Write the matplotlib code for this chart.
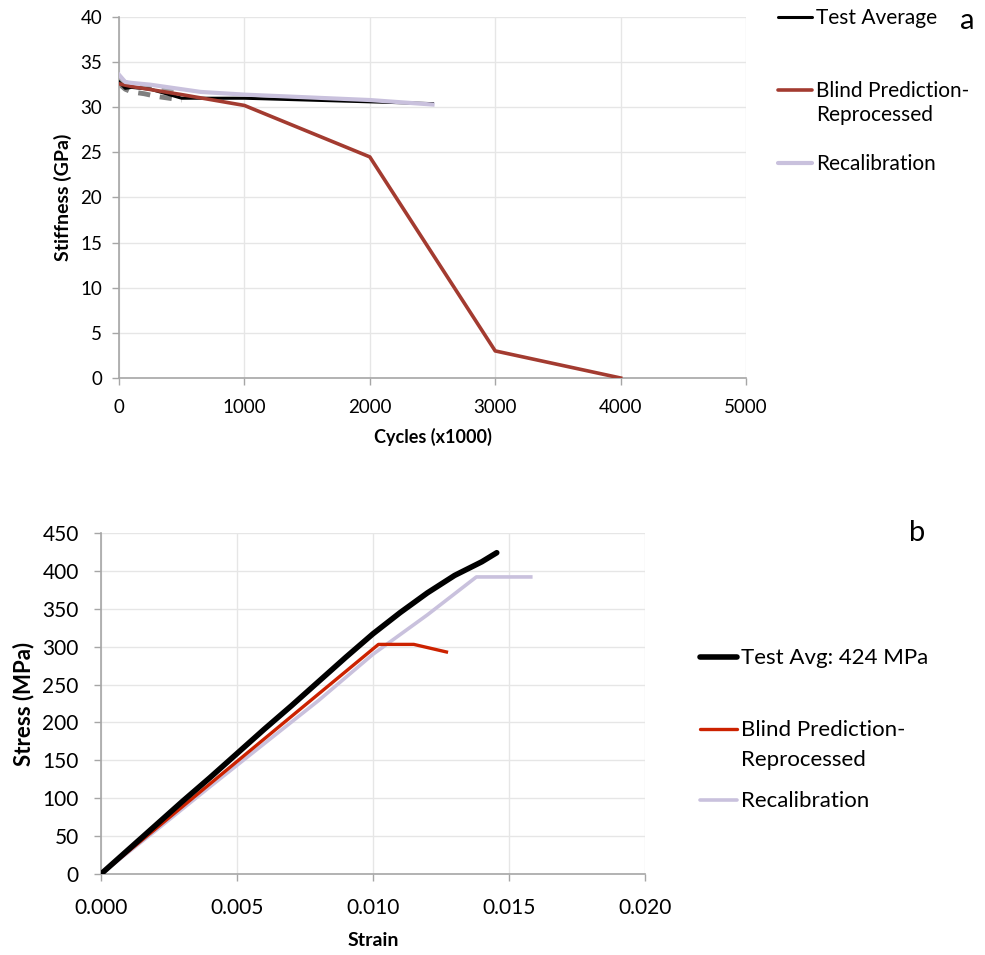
import matplotlib
matplotlib.use("Agg")
import matplotlib.pyplot as plt
from matplotlib.lines import Line2D

plt.rcParams["font.family"] = ["Lato", "DejaVu Sans"]

# ---- (a) stiffness degradation vs. cycles ----
cyc_test_avg = [0, 50, 100, 250, 500, 1000, 2500]
stf_test_avg = [32.8, 32.1, 32.2, 32.0, 31.0, 31.0, 30.4]

cyc_spec1 = [0, 50, 100, 200, 300, 500]
stf_spec1 = [32.6, 32.0, 31.7, 31.5, 31.2, 30.8]
cyc_spec2 = [0, 100, 250, 500]
stf_spec2 = [33.0, 32.5, 32.3, 31.8]

cyc_blind = [0, 100, 500, 1000, 2000, 3000, 4000]
stf_blind = [32.6, 32.3, 31.4, 30.2, 24.5, 3.0, 0.0]

cyc_recal = [0, 50, 100, 250, 650, 1000, 2000, 2500]
stf_recal = [33.6, 32.8, 32.7, 32.5, 31.7, 31.4, 30.8, 30.3]

# ---- (b) stress-strain ----
strain_test = [0, 0.001, 0.002, 0.003, 0.004, 0.005, 0.006, 0.007, 0.008,
               0.009, 0.010, 0.011, 0.012, 0.013, 0.014, 0.01455]
stress_test = [0, 32, 64, 96, 127, 159, 191, 222, 254,
               286, 317, 345, 371, 394, 412, 424]

strain_blind = [0, 0.0102, 0.0115, 0.0127]
stress_blind = [0, 303, 303, 293]

strain_recal = [0, 0.002, 0.004, 0.006, 0.008, 0.010, 0.012, 0.0138, 0.0158]
stress_recal = [0, 57, 115, 172, 229, 290, 342, 392, 392]

labels_a = ["Test Average", "Blind Prediction-\nReprocessed", "Recalibration"]
labels_b = ["Test Avg: 424 MPa", "Blind Prediction-\nReprocessed", "Recalibration"]

W, H = 985, 955
fig = plt.figure(figsize=(W / 100, H / 100), dpi=100)

grid_c = "#e6e6e6"
spine_c = "#a6a6a6"
c_black = "#000000"
c_brown = "#a33b30"
c_red = "#cc2200"
c_purple = "#c9c1dd"
c_gray = "#7f7f7f"


def style_axes(ax, tick_size, xpad, ypad):
    ax.grid(True, color=grid_c, lw=1.0)
    ax.set_axisbelow(True)
    for s in ("top", "right"):
        ax.spines[s].set_visible(False)
    for s in ("left", "bottom"):
        ax.spines[s].set_color(spine_c)
        ax.spines[s].set_linewidth(1.2)
    ax.tick_params(direction="out", length=5, width=1.0, color=spine_c,
                   labelsize=tick_size)
    ax.tick_params(axis="x", pad=xpad)
    ax.tick_params(axis="y", pad=ypad)


def fig_legend(entries, x0, x1, ys, size, line_gap):
    # entries: (label, color, linewidth); ys: pixel rows of first text line
    for (label, color, lw), y in zip(entries, ys):
        yf = 1 - y / H
        fig.add_artist(Line2D([x0 / W, x1 / W], [yf, yf], color=color, lw=lw,
                              solid_capstyle="round", transform=fig.transFigure))
        for k, part in enumerate(label.split("\n")):
            fig.text((x1 + 4) / W, 1 - (y + 1 + k * line_gap) / H, part,
                     fontsize=size, ha="left", va="center")


# panel a
axa = fig.add_axes([119 / W, 1 - 378 / H, (746 - 119) / W, (378 - 17) / H])
style_axes(axa, 13.5, 10, 7)
axa.plot(cyc_spec2, stf_spec2, color="#a0a0a0", lw=3.5, ls=(0, (2.5, 2)), zorder=2)
axa.plot(cyc_spec1, stf_spec1, color=c_gray, lw=3.5, ls=(0, (2.5, 2)), zorder=2)
axa.plot(cyc_test_avg, stf_test_avg, color=c_black, lw=2.2, zorder=3)
axa.plot(cyc_blind, stf_blind, color=c_brown, lw=2.6, zorder=4)
axa.plot(cyc_recal, stf_recal, color=c_purple, lw=3.0, zorder=5)
axa.set_xlim(0, 5000)
axa.set_ylim(0, 40)
axa.set_xticks(range(0, 5001, 1000))
axa.set_yticks(range(0, 41, 5))
axa.set_xlabel("Cycles (x1000)", fontsize=13, fontweight="bold", labelpad=9)
axa.set_ylabel("Stiffness (GPa)", fontsize=14, fontweight="bold", labelpad=6)
fig_legend([(labels_a[0], c_black, 2.2), (labels_a[1], c_brown, 2.6),
            (labels_a[2], c_purple, 3.0)],
           778, 812, [17, 90, 163], 15, 24)
fig.text(967 / W, 1 - 21 / H, "a", fontsize=21, ha="center", va="center")

# panel b
axb = fig.add_axes([101 / W, 1 - 874 / H, (645 - 101) / W, (874 - 533) / H])
style_axes(axb, 15, 12, 11)
axb.plot(strain_recal, stress_recal, color=c_purple, lw=2.6, zorder=3)
axb.plot(strain_blind, stress_blind, color=c_red, lw=2.4, zorder=4)
axb.plot(strain_test, stress_test, color=c_black, lw=4.0, solid_capstyle="round", zorder=5)
axb.set_xlim(0, 0.020)
axb.set_ylim(0, 450)
axb.set_xticks([0.000, 0.005, 0.010, 0.015, 0.020])
axb.set_xticklabels(["0.000", "0.005", "0.010", "0.015", "0.020"])
axb.set_yticks(range(0, 451, 50))
axb.set_xlabel("Strain", fontsize=14, fontweight="bold", labelpad=10)
axb.set_ylabel("Stress (MPa)", fontsize=16, fontweight="bold", labelpad=6)
fig_legend([(labels_b[0], c_black, 4.0), (labels_b[1], c_red, 2.4),
            (labels_b[2], c_purple, 2.6)],
           700, 737, [657, 729, 800], 16, 30)
fig.text(917 / W, 1 - 533 / H, "b", fontsize=21, ha="center", va="center")

fig.savefig("out.png", dpi=100)
